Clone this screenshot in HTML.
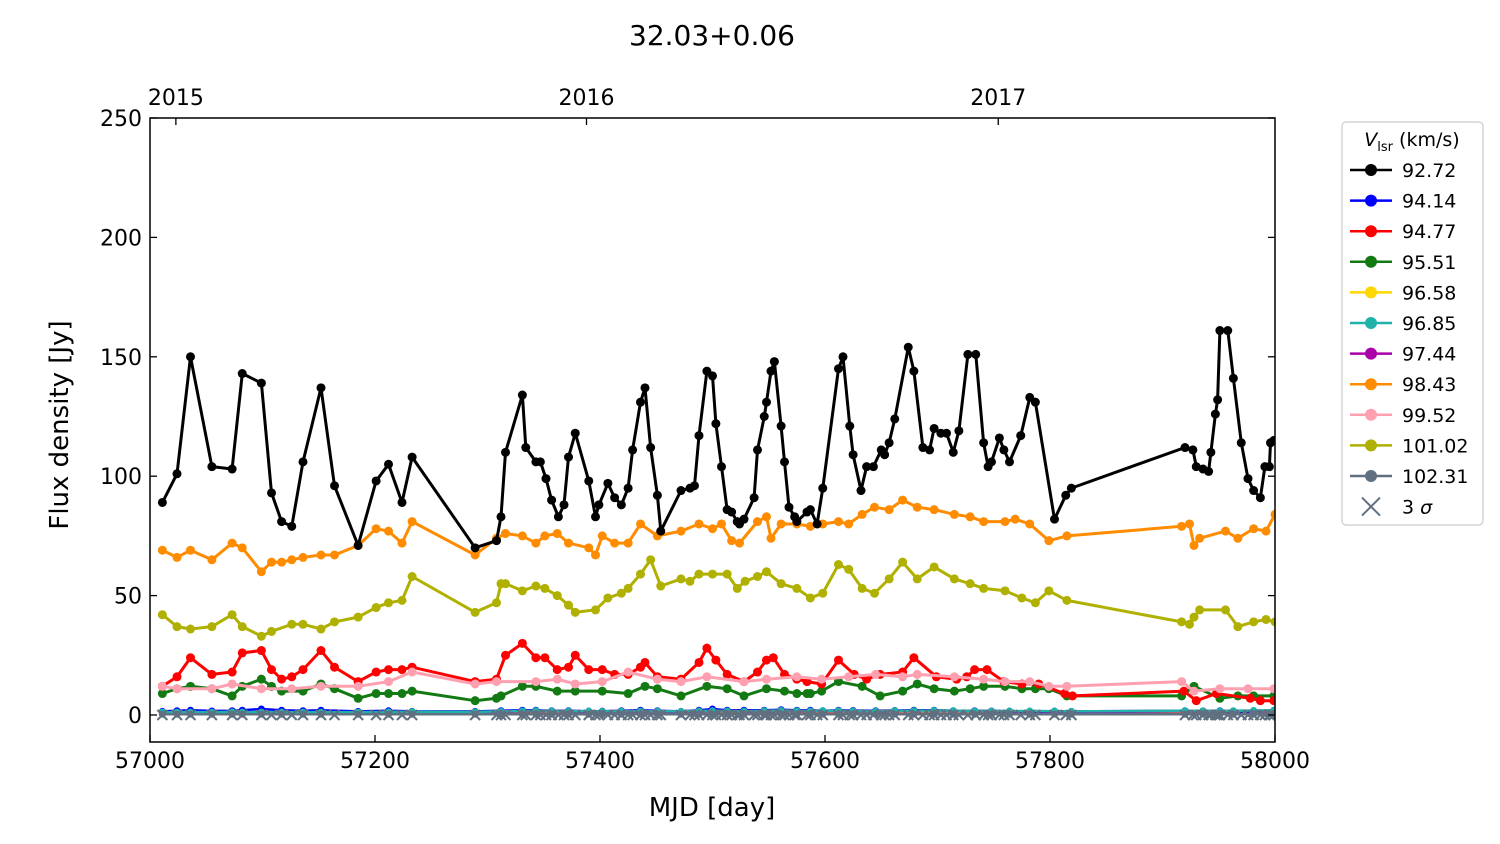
<!DOCTYPE html>
<html><head><meta charset="utf-8"><style>
html,body{margin:0;padding:0;background:#fff}
svg{display:block;font-family:"DejaVu Sans","Liberation Sans",sans-serif}
</style></head><body>
<svg id="chart" width="1500" height="844" viewBox="0 0 1500 844">
<text x="712" y="45" font-size="28" text-anchor="middle">32.03+0.06</text>
<defs><clipPath id="clip"><rect x="150" y="118" width="1125" height="624"/></clipPath></defs>
<g id="plot" clip-path="url(#clip)"></g>
<rect x="150" y="118" width="1125" height="624" fill="none" stroke="#000" stroke-width="1.5"/>
<g id="axes"></g>
<text x="712" y="816" font-size="26" text-anchor="middle">MJD [day]</text>
<text transform="translate(68,425) rotate(-90)" font-size="26" text-anchor="middle">Flux density [Jy]</text>
<g id="legend"></g>
</svg>
<script>
const NS="http://www.w3.org/2000/svg";
const xTicks=[57000,57200,57400,57600,57800,58000];
const yTicks=[0,50,100,150,200,250];
const yearLabels=["2015","2016","2017"];
const yearMjd=[57023,57388,57754];
const legendLabels=["92.72","94.14","94.77","95.51","96.58","96.85","97.44","98.43","99.52","101.02","102.31"];
const legendColors=["#000000","#0000ff","#ff0000","#137a13","#ffd700","#20b2aa","#aa00aa","#ff8c00","#ffa0b0","#b0b000","#607080"];

const bDates=[11,24,36,55,73,82,99,108,117,126,136,152,164,185,201,212,224,233,289,308,312,316,331,334,343,347,352,357,363,368,372,378,390,396,399,407,413,419,425,429,436,440,445,451,454,472,480,484,488,495,500,503,508,513,517,522,524,528,537,540,546,548,552,555,561,564,568,573,575,584,587,593,598,612,616,622,625,632,637,643,650,653,657,662,674,679,687,693,697,703,708,714,719,727,734,741,745,748,755,759,764,774,782,787,804,814,819,920,927,930,936,941,943,947,949,951,958,963,970,976,981,987,991,995,996,999];
const bVals=[89,101,150,104,103,143,139,93,81,79,106,137,96,71,98,105,89,108,70,73,83,110,134,112,106,106,99,90,83,88,108,118,98,83,88,97,91,88,95,111,131,137,112,92,77,94,95,96,117,144,142,122,104,86,85,81,80,82,91,111,125,131,144,148,121,106,87,83,81,85,86,80,95,145,150,121,109,94,104,104,111,109,114,124,154,144,112,111,120,118,118,110,119,151,151,114,104,106,116,111,106,117,133,131,82,92,95,112,111,104,103,102,110,126,132,161,161,141,114,99,94,91,104,104,114,115];

const oDates=[11,24,36,55,73,82,99,108,117,126,136,152,164,185,201,212,224,233,289,308,316,331,343,351,362,372,390,396,402,413,425,436,451,472,488,500,508,517,524,540,548,552,561,575,587,598,612,621,633,644,657,669,682,697,715,729,741,760,769,782,799,815,917,924,928,933,956,967,981,992,1000];
const oVals=[69,66,69,65,72,70,60,64,64,65,66,67,67,71,78,77,72,81,67,74,76,75,72,75,76,72,70,67,75,72,72,80,75,77,80,78,80,73,72,81,83,74,80,80,79,80,81,80,84,87,86,90,87,86,84,83,81,81,82,80,73,75,79,80,71,74,77,74,78,77,84,80];

const gDates=[11,24,36,55,73,82,99,108,126,136,152,164,185,201,212,224,233,289,308,312,316,331,343,351,362,372,378,396,407,419,425,436,445,454,472,480,488,500,513,522,529,540,548,561,575,587,598,612,621,633,644,657,669,682,697,715,729,741,760,775,787,799,815,917,924,928,933,956,967,981,992,1000];
const gVals=[42,37,36,37,42,37,33,35,38,38,36,39,41,45,47,48,58,43,47,55,55,52,54,53,50,46,43,44,49,51,53,59,65,54,57,56,59,59,59,53,56,58,60,55,53,49,51,63,61,53,51,57,64,57,62,57,55,53,52,49,47,52,48,39,38,41,44,44,37,39,40,39,40,38,43,42].slice(0,72);

const rDates=[11,24,36,55,73,82,99,108,117,126,136,152,164,185,201,212,224,233,289,308,316,331,343,351,362,372,378,390,402,413,425,436,440,451,472,488,495,503,513,528,540,548,554,564,575,584,597,612,626,637,649,669,679,699,717,726,733,744,759,775,790,813,820,919,930,948,978,987,999];
const rVals=[12,16,24,17,18,26,27,19,15,16,19,27,20,14,18,19,19,20,14,15,25,30,24,24,19,20,25,19,19,17,17,20,22,16,15,22,28,23,17,14,18,23,24,17,15,14,13,23,17,15,17,18,24,16,15,16,19,19,14,13,13,9,8,10,6,9,7,6,6];

const pDates=[11,24,55,73,99,126,152,185,212,233,289,308,343,362,378,402,425,451,472,495,528,548,575,597,621,645,669,682,715,741,760,782,799,815,917,928,951,976,999];
const pVals=[12,11,11,13,11,11,12,12,14,18,13,14,14,15,13,14,18,15,14,16,14,15,16,15,16,17,16,17,16,15,14,14,12,12,14,10,11,11,11];

const grDates=[11,24,36,55,73,82,99,108,117,136,152,164,185,201,212,224,233,289,308,312,331,343,362,378,402,425,440,451,472,495,513,528,548,564,575,584,587,597,612,633,649,669,682,697,715,729,741,760,775,787,799,815,917,928,951,967,981,999];
const grVals=[9,11,12,11,8,12,15,12,10,10,13,11,7,9,9,9,10,6,7,8,12,12,10,10,10,9,12,11,8,12,11,8,11,10,9,9,9,10,14,12,8,10,13,11,10,11,12,12,11,11,11,8,8,12,7,8,8,8,8].slice(0,58);

const lowDates=[11,24,36,55,73,82,99,117,136,152,185,212,233,289,312,331,343,357,372,390,402,419,436,451,472,488,500,513,528,546,561,575,587,598,612,625,645,662,679,697,714,733,748,764,782,804,819,920,936,951,963,981,999];
const blueVals=[1.5,1.8,2,1.7,1.8,2,2.5,2,1.8,2,1.5,1.8,1.5,1.5,1.8,2,2,1.8,1.8,1.6,1.6,1.8,2,1.8,1.5,2,2.5,2,2,2,2.2,2,2,1.8,2,1.9,1.8,1.9,2,2,1.8,1.8,1.7,1.6,1.5,1.6,1.5,1.8,1.7,1.8,1.6,1.5,2];
const cyanVals=[1.2,1.2,1.2,1.2,1.3,1.2,1.2,1.2,1.2,1.2,1.2,1.3,1.4,1.3,1.5,1.7,1.8,1.7,1.6,1.6,1.5,1.6,1.6,1.6,1.5,1.7,1.8,1.7,1.6,1.8,1.9,1.8,1.7,1.8,1.8,1.7,1.6,1.8,1.8,1.9,1.8,1.7,1.7,1.6,1.7,1.6,1.5,1.8,1.8,1.7,1.8,1.9,2];
const yellowVals=[1,1,1,1,1,1,1,1,1,1,1,1,1.2,1,1.5,1.2,1.2,1,1,1,1,1,1.2,1,1,1,1,1,1,1,1,1,1,1,1,1,1,1,1,1,1,1,1,1,1,1,1,1,1,1,1,1,1];
const purpleVals=[0.5,0.5,0.5,0.6,0.6,0.5,0.5,0.5,0.5,0.5,0.6,0.5,0.5,0.5,0.5,0.5,0.5,0.5,0.5,0.5,0.5,0.6,0.6,0.5,0.5,0.6,0.6,0.5,0.5,0.5,0.5,0.5,0.5,0.6,0.5,0.5,0.6,0.5,0.5,0.5,0.5,0.5,0.5,0.5,0.5,0.5,0.5,0.5,0.5,0.5,0.5,0.5,0.5];
const grayVals=[0.3,0.3,0.3,0.3,0.3,0.3,0.3,0.3,0.3,0.3,0.3,0.3,0.3,0.3,0.3,0.3,0.3,0.3,0.3,0.3,0.3,0.3,0.3,0.3,0.3,0.3,0.3,0.3,0.3,0.3,0.3,0.3,0.3,0.3,0.3,0.3,0.3,0.3,0.3,0.3,0.3,0.3,0.3,0.3,0.3,0.3,0.3,0.3,0.3,0.3,0.3,0.3,0.3];
const sigmaVal=[0];

const X=m=>150+(m-57000)*1.125;
const Y=v=>715-v*(597/250);
const plot=document.getElementById('plot'),axes=document.getElementById('axes'),leg=document.getElementById('legend');
function mk(tag,attrs,parent){const e=document.createElementNS(NS,tag);for(const k in attrs)e.setAttribute(k,attrs[k]);parent.appendChild(e);return e;}

function series(dates,vals,color,name,r,w){
  const n=Math.min(dates.length,vals.length);
  const g=mk('g',{},plot);
  
  
  let d='';
  for(let i=0;i<n;i++)d+=(i?'L':'M')+X(57000+dates[i]).toFixed(1)+','+Y(vals[i]).toFixed(1);
  const p=mk('path',{d:d,fill:'none',stroke:color,'stroke-width':w,'stroke-linejoin':'round'},g);
  
  
  for(let i=0;i<n;i++){
    const c=mk('circle',{cx:X(57000+dates[i]),cy:Y(vals[i]),r:r,fill:color},g);
    
    
  }
}
series(lowDates,yellowVals,legendColors[4],'series-96-58',3.5,2.5);
series(lowDates,purpleVals,legendColors[6],'series-97-44',3.5,2.5);
series(lowDates,blueVals,legendColors[1],'series-94-14',3.5,2.5);
series(lowDates,cyanVals,legendColors[5],'series-96-85',3.5,2.5);
series(lowDates,grayVals,legendColors[10],'series-102-31',3.5,2.5);
series(grDates,grVals,legendColors[3],'series-95-51',4.5,3);
series(rDates,rVals,legendColors[2],'series-94-77',4.5,3);
series(pDates,pVals,legendColors[8],'series-99-52',4.5,3);
series(gDates,gVals,legendColors[9],'series-101-02',4.5,3);
series(oDates,oVals,legendColors[7],'series-98-43',4.5,3);
series(bDates,bVals,legendColors[0],'series-92-72',4.5,3);
// 3 sigma markers
for(let i=0;i<bDates.length;i++){
  const x=X(57000+bDates[i]),y=Y(sigmaVal[0]);
  const t=mk('path',{d:`M${x-5},${y-5}L${x+5},${y+5}M${x-5},${y+5}L${x+5},${y-5}`,stroke:'#607080','stroke-width':2},plot);
  
  
}
// axes
xTicks.forEach(v=>{const x=X(v);
  mk('line',{x1:x,y1:742,x2:x,y2:735,stroke:'#000','stroke-width':1.3},axes);
  const t=mk('text',{x:x,y:768,'font-size':22,'text-anchor':'middle'},axes);t.textContent=v;
  });
yTicks.forEach(v=>{const y=Y(v);
  mk('line',{x1:150,y1:y,x2:157,y2:y,stroke:'#000','stroke-width':1.3},axes);
  mk('line',{x1:1275,y1:y,x2:1268,y2:y,stroke:'#000','stroke-width':1.3},axes);
  const t=mk('text',{x:142,y:y+8,'font-size':22,'text-anchor':'end'},axes);t.textContent=v;
  });
yearMjd.forEach((m,i)=>{const x=X(m);
  mk('line',{x1:x,y1:118,x2:x,y2:125,stroke:'#000','stroke-width':1.3},axes);
  const t=mk('text',{x:x,y:105,'font-size':22,'text-anchor':'middle'},axes);t.textContent=yearLabels[i];
  });
// legend
mk('rect',{x:1342,y:122,width:141,height:403,rx:4,fill:'#fff',stroke:'#ccc','stroke-width':1.2},leg);
const lt=mk('text',{x:1412,y:146,'font-size':19,'text-anchor':'middle'},leg);
lt.innerHTML='<tspan font-style="italic">V</tspan><tspan font-size="13" dy="5">lsr</tspan><tspan dy="-5"> (km/s)</tspan>';

legendLabels.forEach((l,i)=>{const y=170+i*30.6;
  const g=mk('g',{},leg);
  
  
  mk('line',{x1:1350,y1:y,x2:1392,y2:y,stroke:legendColors[i],'stroke-width':2.5},g);
  mk('circle',{cx:1371,cy:y,r:6,fill:legendColors[i]},g);
  const t=mk('text',{x:1402,y:y+7,'font-size':19},g);t.textContent=l;});
{const y=170+11*30.6;const g=mk('g',{},leg);
 
 
 mk('path',{d:`M1362,${y-9}L1380,${y+9}M1362,${y+9}L1380,${y-9}`,stroke:'#607080','stroke-width':2},g);
 const t=mk('text',{x:1402,y:y+7,'font-size':19},g);t.innerHTML='3 <tspan font-style="italic">σ</tspan>';}
</script>
</body></html>
